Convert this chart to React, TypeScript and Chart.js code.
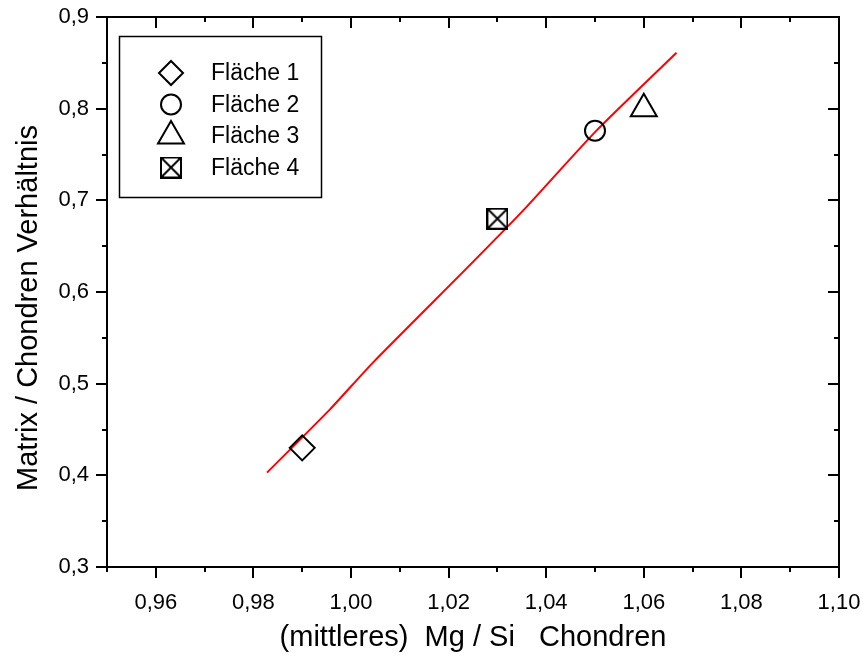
import React, { useEffect, useRef } from 'react';
import { Chart, registerables } from 'chart.js';

Chart.register(...registerables);

const xMin = 0.95;
const xMax = 1.10;
const yMin = 0.3;
const yMax = 0.9;
const xMajorTicks = [0.96, 0.98, 1.0, 1.02, 1.04, 1.06, 1.08, 1.1];
const xMinorTicks = [0.95, 0.97, 0.99, 1.01, 1.03, 1.05, 1.07, 1.09];
const yMajorTicks = [0.3, 0.4, 0.5, 0.6, 0.7, 0.8, 0.9];
const yMinorTicks = [0.35, 0.45, 0.55, 0.65, 0.75, 0.85];

const seriesLabels = ['Fläche 1', 'Fläche 2', 'Fläche 3', 'Fläche 4'];
const seriesX = [0.99, 1.05, 1.06, 1.03];
const seriesY = [0.43, 0.776, 0.8, 0.68];

const fitX = [0.9828, 0.9957, 1.0045, 1.0243, 1.0353, 1.0503, 1.0667];
const fitY = [0.403, 0.472, 0.523, 0.629, 0.689, 0.776, 0.861];

const xTitle = '(mittleres)  Mg / Si   Chondren';
const yTitle = 'Matrix / Chondren Verhältnis';

const FONT = "'Liberation Sans', Arial, sans-serif";

function makeBoxX(): HTMLCanvasElement {
  const c = document.createElement('canvas');
  c.width = 22;
  c.height = 22;
  const g = c.getContext('2d')!;
  g.strokeStyle = '#000';
  g.lineWidth = 2;
  g.strokeRect(1, 1, 20, 20);
  g.beginPath();
  g.moveTo(1, 1);
  g.lineTo(21, 21);
  g.moveTo(21, 1);
  g.lineTo(1, 21);
  g.stroke();
  return c;
}

function drawSymbol(ctx: CanvasRenderingContext2D, kind: string, x: number, y: number, img: HTMLCanvasElement) {
  ctx.save();
  ctx.strokeStyle = '#000';
  ctx.lineWidth = 2;
  ctx.beginPath();
  if (kind === 'rectRot') {
    const r = 12;
    ctx.moveTo(x - r, y);
    ctx.lineTo(x, y - r);
    ctx.lineTo(x + r, y);
    ctx.lineTo(x, y + r);
    ctx.closePath();
    ctx.stroke();
  } else if (kind === 'circle') {
    ctx.arc(x, y, 10, 0, Math.PI * 2);
    ctx.stroke();
  } else if (kind === 'triangle') {
    const r = 15;
    ctx.moveTo(x, y - r);
    ctx.lineTo(x + r * Math.sqrt(3) / 2, y + r / 2);
    ctx.lineTo(x - r * Math.sqrt(3) / 2, y + r / 2);
    ctx.closePath();
    ctx.stroke();
  } else {
    ctx.drawImage(img, x - img.width / 2, y - img.height / 2);
  }
  ctx.restore();
}

export default function App() {
  const ref = useRef<HTMLCanvasElement | null>(null);

  useEffect(() => {
    if (!ref.current) return;
    const boxX = makeBoxX();
    const styles: any[] = ['rectRot', 'circle', 'triangle', boxX];
    const radii = [12.5, 10, 15, 11];
    const legendKinds = ['rectRot', 'circle', 'triangle', 'boxX'];

    const pointSets = seriesLabels.map((label, i) => ({
      label,
      data: [{ x: seriesX[i], y: seriesY[i] }],
      pointStyle: styles[i],
      pointRadius: radii[i],
      pointHoverRadius: radii[i],
      borderColor: '#000',
      backgroundColor: 'rgba(0,0,0,0)',
      pointBorderWidth: 2,
      showLine: false,
    }));

    const fitSet = {
      label: 'fit',
      data: fitX.map((x, i) => ({ x, y: fitY[i] })),
      showLine: true,
      borderColor: '#ff0000',
      borderWidth: 2,
      pointRadius: 0,
      tension: 0.2,
      fill: false,
    };

    const framePlugin = {
      id: 'frameTicks',
      afterDraw(chart: any) {
        const { ctx, chartArea: a, scales } = chart;
        const xs = scales.x;
        const ys = scales.y;
        ctx.save();
        ctx.strokeStyle = '#000';
        ctx.lineWidth = 2;
        ctx.strokeRect(a.left, a.top, a.right - a.left, a.bottom - a.top);
        const major = 11;
        const minor = 5;
        ctx.beginPath();
        const xt = (v: number, len: number) => {
          const p = Math.round(xs.getPixelForValue(v));
          ctx.moveTo(p, a.bottom);
          ctx.lineTo(p, a.bottom + len);
          ctx.moveTo(p, a.top);
          ctx.lineTo(p, a.top + len);
        };
        const yt = (v: number, len: number) => {
          const p = Math.round(ys.getPixelForValue(v));
          ctx.moveTo(a.left, p);
          ctx.lineTo(a.left - len, p);
          ctx.moveTo(a.right, p);
          ctx.lineTo(a.right - len, p);
        };
        xMajorTicks.forEach((v) => xt(v, major));
        xMinorTicks.forEach((v) => xt(v, minor));
        yMajorTicks.forEach((v) => yt(v, major));
        yMinorTicks.forEach((v) => yt(v, minor));
        ctx.stroke();

        // y-axis title (offset slightly below the plot centre, as in the reference)
        ctx.save();
        ctx.translate(29, (a.top + a.bottom) / 2 + 16);
        ctx.rotate(-Math.PI / 2);
        ctx.fillStyle = '#000';
        ctx.font = `29px ${FONT}`;
        ctx.textAlign = 'center';
        ctx.textBaseline = 'middle';
        ctx.fillText(yTitle, 0, 0);
        ctx.restore();

        // legend
        const lx = a.left + 12;
        const ly = a.top + 19;
        ctx.lineWidth = 1.5;
        ctx.strokeRect(lx + 0.5, ly + 0.5, 202, 161);
        ctx.fillStyle = '#000';
        ctx.font = `23px ${FONT}`;
        ctx.textBaseline = 'middle';
        ctx.textAlign = 'left';
        seriesLabels.forEach((label, i) => {
          const cy = ly + 37 + i * 31.5;
          drawSymbol(ctx, legendKinds[i], lx + 52, cy, boxX);
          ctx.fillStyle = '#000';
          ctx.fillText(label, lx + 92, cy + 1);
        });
        ctx.restore();
      },
    };

    const chart = new Chart(ref.current, {
      type: 'scatter',
      data: { datasets: [...pointSets, fitSet] as any },
      options: {
        animation: false,
        responsive: false,
        events: [],
        layout: { padding: { left: 0, top: 14, right: 24, bottom: 0 } },
        plugins: { legend: { display: false }, tooltip: { enabled: false } },
        scales: {
          x: {
            type: 'linear',
            min: xMin,
            max: xMax,
            afterBuildTicks: (s: any) => {
              s.ticks = xMajorTicks.map((v) => ({ value: v }));
            },
            afterFit: (s: any) => {
              s.height = 90;
              s.paddingLeft = 0;
              s.paddingRight = 0;
            },
            grid: { display: false },
            border: { display: false },
            ticks: {
              color: '#000',
              font: { family: FONT, size: 22 },
              padding: 15,
              maxRotation: 0,
              autoSkip: false,
              callback: (v: any) => Number(v).toFixed(2).replace('.', ','),
            },
            title: {
              display: true,
              text: xTitle,
              color: '#000',
              font: { family: FONT, size: 29 },
              padding: { top: 0, bottom: 2 },
            },
          },
          y: {
            type: 'linear',
            min: yMin,
            max: yMax,
            afterBuildTicks: (s: any) => {
              s.ticks = yMajorTicks.map((v) => ({ value: v }));
            },
            afterFit: (s: any) => {
              s.width = 107;
              s.paddingTop = 0;
              s.paddingBottom = 0;
            },
            grid: { display: false },
            border: { display: false },
            ticks: {
              color: '#000',
              font: { family: FONT, size: 22 },
              padding: 10,
              autoSkip: false,
              callback: (v: any) => Number(v).toFixed(1).replace('.', ','),
            },
            title: { display: false },
          },
        },
      } as any,
      plugins: [framePlugin],
    });
    return () => chart.destroy();
  }, []);

  return (
    <div style={{ position: 'fixed', left: 0, top: 0, width: 863, height: 657, background: '#fff' }}>
      <canvas ref={ref} width={863} height={657} />
    </div>
  );
}
